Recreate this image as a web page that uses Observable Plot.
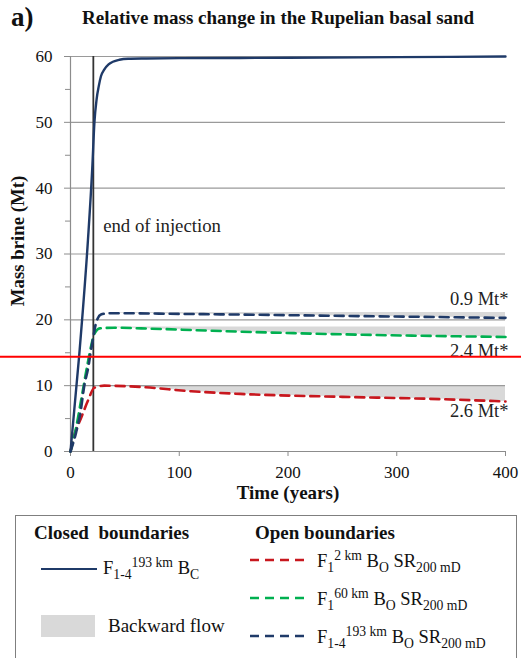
<!DOCTYPE html>
<html>
<head>
<meta charset="utf-8">
<script src="https://cdn.jsdelivr.net/npm/d3@7"></script>
<script src="https://cdn.jsdelivr.net/npm/@observablehq/plot@0.6"></script>
<style>
  body { margin: 0; background: #fff; font-family: "Liberation Serif", "Times New Roman", Times, "DejaVu Serif", "Noto Serif", serif; }
  #wrap { position: relative; width: 521px; height: 658px; overflow: hidden; }
  #chart { position: absolute; left: 0; top: 0; }
  .abs { position: absolute; white-space: nowrap; line-height: 1; color: #111; }
  #legend { position: absolute; left: 15px; top: 515px; width: 502px; height: 200px; border: 1px solid #7f7f7f; box-sizing: border-box; }
  sub, sup { font-size: 0.74em; line-height: 0; }
</style>
</head>
<body>
<div id="wrap">
  <div id="chart"></div>
  <div class="abs" style="left:11px; top:4px; font-size:27px; font-weight:bold;">a)</div>
  <div class="abs" style="left:82px; top:8px; font-size:19px; font-weight:bold;">Relative mass change in the Rupelian basal sand</div>
  <div id="legend"></div>
</div>
<script>
// ---- data ----
const injectionEnd = 21;             // years, end of injection
const closedYears  = [0, 8, 16, 20, 22, 24, 26, 28, 31, 35, 39, 45, 53, 70, 100, 200, 300, 400];
const closedMass   = [0, 14.6, 32, 43, 50, 53.5, 55.5, 57, 58, 58.8, 59.2, 59.5, 59.65, 59.7, 59.75, 59.8, 59.9, 60];

const open193Years = [0, 5, 9, 13, 16, 19, 21, 23, 25, 28, 35, 50, 100, 156, 250, 400];
const open193Mass  = [0, 2.8, 5.8, 10.3, 12.5, 15.5, 17.4, 19.2, 20.2, 20.8, 21.0, 21.0, 20.9, 20.8, 20.6, 20.3];

const open60Years  = [0, 5, 10, 15.8, 19.5, 22, 27, 40, 65, 156, 250, 400];
const open60Mass   = [0, 3.5, 8, 13.4, 16.4, 17.9, 18.7, 18.8, 18.7, 18.2, 17.8, 17.4];

const open2Years   = [0, 3, 10, 16, 22, 31, 65, 111, 156, 250, 331, 400];
const open2Mass    = [0, 2.2, 5.2, 7.7, 9.7, 10.0, 9.8, 9.15, 8.75, 8.3, 8.0, 7.6];

// backward flow bands: peak value and the year it is reached
const bandPeaks = [
  {name: "open193", peak: 21.1, from: 35},
  {name: "open60",  peak: 18.9, from: 40},
  {name: "open2",   peak: 10.0, from: 31}
];
const bandLabels = ["0.9 Mt*", "2.4 Mt*", "2.6 Mt*"];
const bandLabelY = [23.2, 15.3, 6.1];
const redMarkerY = 14.4;

const yTicks = [0, 10, 20, 30, 40, 50, 60];
const yMinorTicks = [5, 15, 25, 35, 45, 55];
const xTicks = [0, 100, 200, 300, 400];

const colors = {closed: "#1f3a68", open193: "#1f3a68", open60: "#00b050", open2: "#c8171e", band: "#d9d9d9"};

// ---- tables ----
const zip = (xs, ys, s) => xs.map((x, i) => ({year: x, mass: ys[i], series: s}));
const closed = zip(closedYears, closedMass, "closed");
const open193 = zip(open193Years, open193Mass, "open193");
const open60 = zip(open60Years, open60Mass, "open60");
const open2 = zip(open2Years, open2Mass, "open2");
const seriesMap = {open193, open60, open2};
const bandData = bandPeaks.flatMap(b => seriesMap[b.name].filter(d => d.year >= b.from).map(d => ({...d, top: b.peak})));
const labelData = bandLabels.map((t, i) => ({text: t, y: bandLabelY[i]}));

const serif = "'Liberation Serif', 'Times New Roman', Times, 'DejaVu Serif', serif";
const dash = "9,6";
const chart = Plot.plot({
  width: 521, height: 505,
  marginLeft: 70, marginRight: 16, marginTop: 56, marginBottom: 54,
  x: {domain: [0, 400]},
  y: {domain: [0, 60]},
  style: {fontFamily: serif, fontSize: "17px", color: "#111", background: "transparent", overflow: "visible"},
  marks: [
    Plot.areaY(bandData, {x: "year", y1: "mass", y2: "top", z: "series", fill: colors.band, curve: "monotone-x"}),
    Plot.ruleY(yTicks.filter(d => d > 0), {stroke: "#9a9a9a", strokeWidth: 1.2}),
    Plot.ruleY([0], {stroke: "#8c8c8c", strokeWidth: 1.2}),
    Plot.ruleX([0], {y1: 0, y2: 60, stroke: "#8c8c8c", strokeWidth: 1.2}),
    Plot.axisY({ticks: yTicks, tickSize: 6, tickPadding: 12, label: null, stroke: "#8c8c8c", fill: "#111", fontFamily: serif}),
    Plot.axisY({ticks: yMinorTicks, tickSize: 5, tickFormat: () => "", label: null, stroke: "#8c8c8c"}),
    Plot.axisX({ticks: xTicks, tickSize: 5, tickPadding: 9, label: null, stroke: "#8c8c8c", fill: "#111", fontFamily: serif}),
    Plot.ruleX([injectionEnd], {y1: 0, y2: 60, stroke: "#333", strokeWidth: 1.8}),
    Plot.text(["end of injection"], {x: 30, y: 34.3, textAnchor: "start", fontSize: 18.8, fill: "#222", fontFamily: serif}),
    Plot.line(open2, {x: "year", y: "mass", stroke: colors.open2, strokeWidth: 2.6, strokeDasharray: dash, curve: "monotone-x"}),
    Plot.line(open60, {x: "year", y: "mass", stroke: colors.open60, strokeWidth: 2.6, strokeDasharray: dash, curve: "monotone-x"}),
    Plot.line(open193, {x: "year", y: "mass", stroke: colors.open193, strokeWidth: 2.6, strokeDasharray: dash, curve: "monotone-x"}),
    Plot.line(closed, {x: "year", y: "mass", stroke: colors.closed, strokeWidth: 2.4, curve: "monotone-x"}),
    Plot.text(labelData, {x: 400, y: "y", text: "text", textAnchor: "end", dx: 3, fontSize: 18.5, fill: "#222", fontFamily: serif}),
    Plot.ruleY([redMarkerY], {stroke: "#ff0000", strokeWidth: 2, insetLeft: -70, insetRight: -16}),
    Plot.text(["Mass brine (Mt)"], {frameAnchor: "left", textAnchor: "middle", dx: -53, dy: -13, rotate: -90, fontSize: 18.8, fontWeight: "bold", fill: "#111", fontFamily: serif}),
    Plot.text(["Time (years)"], {frameAnchor: "bottom", dy: 47, fontSize: 19, fontWeight: "bold", fill: "#111", fontFamily: serif})
  ]
});
document.getElementById("chart").appendChild(chart);

// ---- legend ----
const legend = document.getElementById("legend");
const L = (html, x, y, extra = "") => {
  const d = document.createElement("div");
  d.className = "abs";
  d.style.left = x + "px"; d.style.top = y + "px";
  d.style.cssText += extra;
  d.innerHTML = html;
  legend.appendChild(d);
};
const swatch = (x, y, color, dashed) => {
  const s = d3.create("svg").attr("width", 56).attr("height", 6)
    .style("position", "absolute").style("left", x + "px").style("top", (y - 3) + "px");
  s.append("line").attr("x1", 0).attr("x2", 56).attr("y1", 3).attr("y2", 3)
    .attr("stroke", color).attr("stroke-width", dashed ? 2.6 : 2.2)
    .attr("stroke-dasharray", dashed ? "9,6" : null);
  legend.appendChild(s.node());
};
// positions relative to legend box (left 16, top 516)
L("Closed&nbsp; boundaries", 18, 7, "font-size:19px;font-weight:bold;");
L("Open boundaries", 239, 7, "font-size:19px;font-weight:bold;");
swatch(25, 53, colors.closed, false);
L("F<sub>1-4</sub><sup>193 km</sup> B<sub>C</sub>", 87, 43, "font-size:18.5px;");
const box = document.createElement("div");
box.style.cssText = "position:absolute;left:25px;top:99px;width:54px;height:22px;background:" + colors.band;
legend.appendChild(box);
L("Backward flow", 92, 100, "font-size:19px;");
swatch(234, 44, colors.open2, true);
L("F<sub>1</sub><sup>2 km</sup> B<sub>O</sub> SR<sub>200 mD</sub>", 301, 36, "font-size:18.5px;");
swatch(234, 82, colors.open60, true);
L("F<sub>1</sub><sup>60 km</sup> B<sub>O</sub> SR<sub>200 mD</sub>", 301, 74, "font-size:18.5px;");
swatch(234, 120, colors.open193, true);
L("F<sub>1-4</sub><sup>193 km</sup> B<sub>O</sub> SR<sub>200 mD</sub>", 301, 112, "font-size:18.5px;");
</script>
</body>
</html>
